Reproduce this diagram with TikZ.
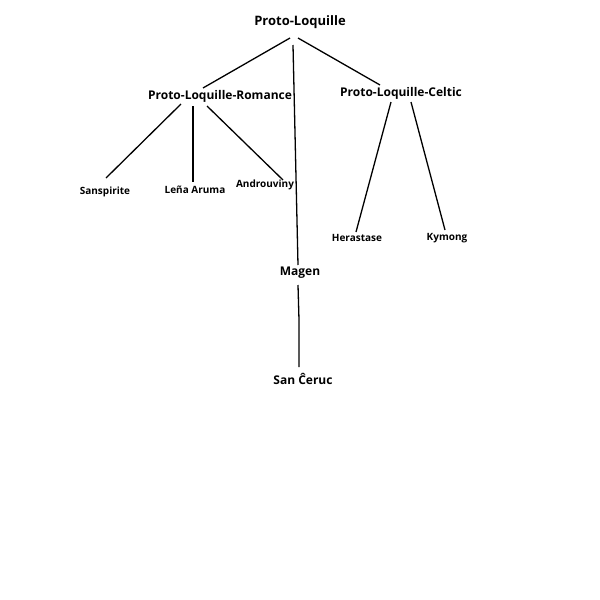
\documentclass[tikz,border=0pt]{standalone}
\usepackage{fontspec}
\setmainfont{Open Sans}
\begin{document}
\begin{tikzpicture}[x=1pt,y=-1pt,
  big/.style={font=\bfseries\fontsize{13}{15}\selectfont},
  mid/.style={font=\bfseries\fontsize{12}{14}\selectfont},
  leaf/.style={font=\bfseries\fontsize{10}{12}\selectfont},
  edge/.style={line width=1.3pt}]
\useasboundingbox (0,0) rectangle (600,600);
\node[big] (root) at (300,22) {Proto-Loquille};
\node[mid] (rom) at (220,96) {Proto-Loquille-Romance};
\node[mid] (cel) at (401,93) {Proto-Loquille-Celtic};
\node[leaf] (san) at (105,192) {Sanspirite};
\node[leaf] (lena) at (195,190) {Leña Aruma};
\node[leaf] (andr) at (265,185) {Androuviny};
\node[leaf] (her) at (357,238) {Herastase};
\node[leaf] (kym) at (447,238) {Kymong};
\node[mid] (mag) at (300,273) {Magen};
\node[mid] (sc) at (303,379) {San Ĉeruc};
\coordinate (r1) at (290,38); \coordinate (r2) at (298,38); \coordinate (r3) at (293,45);
\coordinate (ro) at (203,88); \coordinate (ce) at (380,85); \coordinate (mt) at (298,265);
\coordinate (mb) at (298,285); \coordinate (mm) at (299,320); \coordinate (st) at (299,367);
\coordinate (a1) at (181,104); \coordinate (a2) at (193,106); \coordinate (a3) at (207,106);
\coordinate (b1) at (106,178); \coordinate (b2) at (193,182); \coordinate (b3) at (283,180);
\coordinate (c1) at (391,102); \coordinate (c2) at (411,102);
\coordinate (d1) at (356,232); \coordinate (d2) at (445,230);
\draw[edge] (r1) -- (ro);
\draw[edge] (r2) -- (ce);
\draw[edge] (r3) -- (mt);
\draw[edge] (mb) -- (mm) -- (st);
\draw[edge] (a1) -- (b1);
\draw[edge] (a2) -- (b2);
\draw[edge] (a3) -- (b3);
\draw[edge] (c1) -- (d1);
\draw[edge] (c2) -- (d2);
\end{tikzpicture}
\end{document}
